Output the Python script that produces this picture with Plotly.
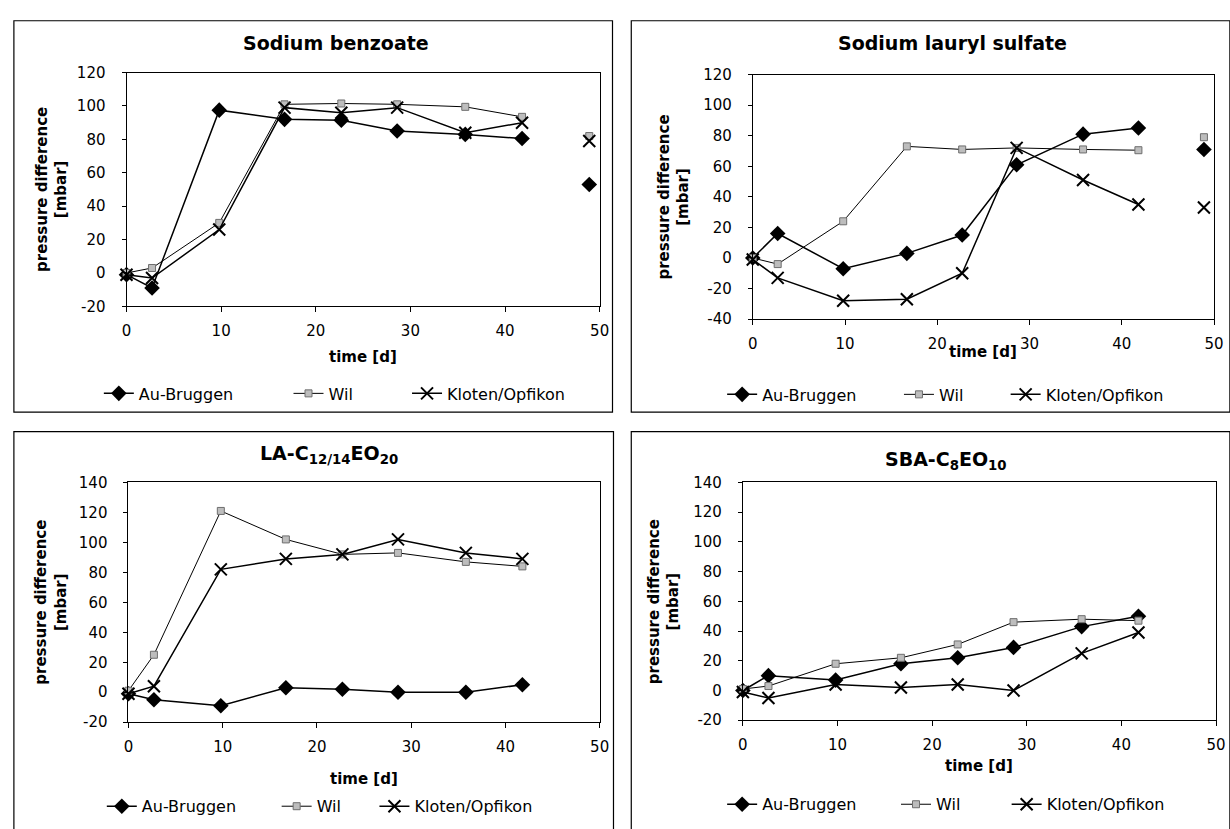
import plotly.graph_objects as go

W, H = 1230, 829

# sampling days (the last one only exists for the two upper panels)
days = [0, 2.7, 9.8, 16.7, 22.7, 28.6, 35.8, 41.8, 48.9]
series_names = ["Au-Bruggen", "Wil", "Kloten/Opfikon"]

# Sodium benzoate
benzoate_au = [-1, -9, 97.5, 92, 91.5, 85, 83, 80.5, 53]
benzoate_wil = [0, 3, 30, 101, 101.5, 101, 99.5, 93.5, 82]
benzoate_kloten = [-1, -3, 26, 99, 96, 99, 84, 90, 79]

# Sodium lauryl sulfate
sls_au = [0, 16, -7, 3, 15, 61, 81, 85, 71]
sls_wil = [0, -4, 24, 73, 71, 72, 71, 70.5, 79]
sls_kloten = [-1, -13, -28, -27, -10, 72, 51, 35, 33]

# LA-C12/14EO20
la_au = [-1, -5, -9, 3, 2, 0, 0, 5]
la_wil = [1, 25, 121, 102, 92, 93, 87, 84]
la_kloten = [-1, 4, 82, 89, 92, 102, 93, 89]

# SBA-C8EO10
sba_au = [0, 10, 7, 18, 22, 29, 43, 50]
sba_wil = [1, 3, 18, 22, 31, 46, 48, 47]
sba_kloten = [-1, -5, 4, 2, 4, 0, 25, 39]

x_ticks = [0, 10, 20, 30, 40, 50]
y_ticks_sls = [-40, -20, 0, 20, 40, 60, 80, 100, 120]
y_ticks_benzoate = [-20, 0, 20, 40, 60, 80, 100, 120]
y_ticks_nonionic = [-20, 0, 20, 40, 60, 80, 100, 120, 140]

FONT = "DejaVu Sans"


def px_x(v):
    return v / W


def px_y(v):
    return 1 - v / H


panels = [
    dict(title="Sodium benzoate", title_xy=(335, 35),
         series=[benzoate_au, benzoate_wil, benzoate_kloten],
         plot=(123, 602, 65, 304), yticks=y_ticks_benzoate,
         ytitle_x=48, xtitle_y=356, legend_y=393,
         legend_x=[115, 307, 427], box=(9, 615, 12, 412)),
    dict(title="Sodium lauryl sulfate", title_xy=(959, 35),
         series=[sls_au, sls_wil, sls_kloten],
         plot=(757, 1224, 67, 317), yticks=y_ticks_sls,
         ytitle_x=677, xtitle_y=351, legend_y=394,
         legend_x=[746, 925, 1033], box=(634, 1240, 12, 412)),
    dict(title="LA-C<sub>12/14</sub>EO<sub>20</sub>", title_xy=(328, 455),
         series=[la_au, la_wil, la_kloten],
         plot=(125, 602, 484, 729), yticks=y_ticks_nonionic,
         ytitle_x=47, xtitle_y=787, legend_y=815,
         legend_x=[118, 295, 394], box=(9, 616, 432, 845)),
    dict(title="SBA-C<sub>8</sub>EO<sub>10</sub>", title_xy=(953, 462),
         series=[sba_au, sba_wil, sba_kloten],
         plot=(747, 1226, 484, 727), yticks=y_ticks_nonionic,
         ytitle_x=667, xtitle_y=774, legend_y=813,
         legend_x=[746, 922, 1034], box=(634, 1240, 432, 845)),
]

marker_styles = [
    dict(symbol="diamond", size=12, color="black", line=dict(color="black", width=0)),
    dict(symbol="square", size=7, color="#bdbdbd", line=dict(color="#6e6e6e", width=1)),
    dict(symbol="x-thin", size=12, color="black", line=dict(color="black", width=2)),
]
line_widths = [1.5, 1.0, 1.5]

fig = go.Figure()
layout = dict(
    width=W, height=H, margin=dict(l=0, r=0, t=0, b=0),
    paper_bgcolor="white", plot_bgcolor="white",
    font=dict(family=FONT, color="black"),
    annotations=[], shapes=[],
)

legend_count = 0
for i, p in enumerate(panels):
    ax = "" if i == 0 else str(i + 1)
    xl, xr, yt, yb = p["plot"]
    layout["xaxis" + ax] = dict(
        domain=[px_x(xl), px_x(xr)], range=[0, 50], tickvals=x_ticks,
        anchor="y" + ax, showline=True, linecolor="black", linewidth=1,
        mirror=True, ticks="outside", ticklen=5, tickcolor="black",
        showgrid=False, zeroline=False, ticklabelstandoff=6,
        tickfont=dict(family=FONT, size=15, color="black"),
    )
    yt_vals = p["yticks"]
    layout["yaxis" + ax] = dict(
        domain=[px_y(yb), px_y(yt)], range=[yt_vals[0], yt_vals[-1]],
        tickvals=yt_vals, ticktext=[str(v) for v in yt_vals],
        anchor="x" + ax, showline=True, linecolor="black", linewidth=1,
        mirror=True, ticks="outside", ticklen=4, tickcolor="black",
        showgrid=False, zeroline=False, ticklabelstandoff=13,
        tickfont=dict(family=FONT, size=15, color="black"),
    )

    for k, (name, vals) in enumerate(zip(series_names, p["series"])):
        legend_count += 1
        lg = "legend" if legend_count == 1 else "legend" + str(legend_count)
        n_line = min(len(vals), 8)
        fig.add_trace(go.Scatter(
            x=days[:n_line], y=vals[:n_line], mode="lines+markers", name=name,
            xaxis="x" + ax, yaxis="y" + ax, legend=lg,
            line=dict(color="black", width=line_widths[k]),
            marker=marker_styles[k], cliponaxis=False,
        ))
        if len(vals) > 8:
            # final reading after the series was stopped, drawn unconnected
            fig.add_trace(go.Scatter(
                x=days[8:], y=vals[8:], mode="markers", name=name,
                xaxis="x" + ax, yaxis="y" + ax, showlegend=False,
                marker=marker_styles[k], cliponaxis=False,
            ))
        layout[lg] = dict(
            x=px_x(p["legend_x"][k] - 20), y=px_y(p["legend_y"]),
            xanchor="left", yanchor="middle", orientation="h",
            bgcolor="rgba(0,0,0,0)", borderwidth=0,
            font=dict(family=FONT, size=16, color="black"),
        )

    # panel title
    layout["annotations"].append(dict(
        text="<b>%s</b>" % p["title"], xref="paper", yref="paper",
        x=px_x(p["title_xy"][0]), y=px_y(p["title_xy"][1]),
        xanchor="center", yanchor="middle", showarrow=False,
        font=dict(family=FONT, size=19, color="black"),
    ))
    # y axis title
    layout["annotations"].append(dict(
        text="<b>pressure difference<br>[mbar]</b>", xref="paper", yref="paper",
        x=px_x(p["ytitle_x"]), y=px_y((yt + yb) / 2), textangle=-90,
        xanchor="center", yanchor="middle", showarrow=False,
        font=dict(family=FONT, size=15, color="black"),
    ))
    # x axis title
    layout["annotations"].append(dict(
        text="<b>time [d]</b>", xref="paper", yref="paper",
        x=px_x((xl + xr) / 2), y=px_y(p["xtitle_y"]),
        xanchor="center", yanchor="middle", showarrow=False,
        font=dict(family=FONT, size=15, color="black"),
    ))
    # frame around the whole panel
    bx0, bx1, by0, by1 = p["box"]
    layout["shapes"].append(dict(
        type="rect", xref="paper", yref="paper",
        x0=px_x(bx0), x1=px_x(bx1), y0=px_y(by1), y1=px_y(by0),
        line=dict(color="black", width=1.2), fillcolor="rgba(0,0,0,0)",
    ))

fig.update_layout(**layout)
fig.write_html("out.html")
